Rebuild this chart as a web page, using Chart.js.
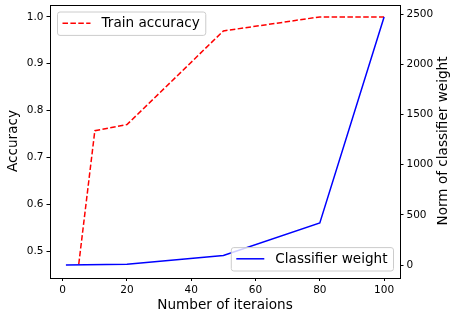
<!DOCTYPE html>
<html>
<head>
<meta charset="utf-8">
<script src="https://cdn.jsdelivr.net/npm/chart.js@4/dist/chart.umd.min.js"></script>
<style>
  html, body { margin: 0; padding: 0; background: #fff; }
  canvas { display: block; }
</style>
</head>
<body>
<canvas id="chart" width="450" height="318"></canvas>
<script>
// data
const accIters = [5, 10, 20, 50, 80, 100];
const trainAccuracy = [0.472, 0.757, 0.770, 0.970, 1.0, 1.0];
const weightIters = [1, 20, 50, 80, 100];
const classifierWeight = [2, 8, 95, 420, 2473];

const xTicks = [0, 20, 40, 60, 80, 100];
const accTicks = [0.5, 0.6, 0.7, 0.8, 0.9, 1.0];
const weightTicks = [0, 500, 1000, 1500, 2000, 2500];

const FONT = "'DejaVu Sans', sans-serif";
const tickFont = { family: FONT, size: 10.5 };
const labelFont = { family: FONT, size: 13.6 };

function toPoints(xs, ys) {
  return xs.map((x, i) => ({ x: x, y: ys[i] }));
}

function fixedTicks(values) {
  return function (axis) {
    axis.ticks = values.map((v) => ({ value: v }));
  };
}

const tickGrid = {
  drawOnChartArea: false,
  drawTicks: true,
  tickLength: 3.5,
  tickColor: '#000',
  lineWidth: 1,
};

// legends drawn by hand so they can sit in two corners like the original
function drawLegend(ctx, x, y, label, color, dash, anchorRight) {
  const fs = labelFont.size;
  ctx.save();
  ctx.font = fs + 'px ' + FONT;
  const textW = ctx.measureText(label).width;
  const pad = 5.5, handle = 28, gap = 11;
  const w = pad + handle + gap + textW + pad;
  const h = 23.4;
  const left = anchorRight ? x - w : x;
  const top = anchorRight ? y - h : y;

  ctx.beginPath();
  ctx.roundRect(left + 0.5, top + 0.5, w, h, 2.5);
  ctx.fillStyle = 'rgba(255,255,255,0.8)';
  ctx.fill();
  ctx.strokeStyle = '#cccccc';
  ctx.lineWidth = 1;
  ctx.stroke();

  const midY = top + h / 2;
  ctx.beginPath();
  ctx.setLineDash(dash);
  ctx.moveTo(left + pad, midY);
  ctx.lineTo(left + pad + handle, midY);
  ctx.strokeStyle = color;
  ctx.lineWidth = 1.5;
  ctx.stroke();
  ctx.setLineDash([]);

  ctx.fillStyle = '#000';
  ctx.textBaseline = 'middle';
  ctx.textAlign = 'left';
  ctx.fillText(label, left + pad + handle + gap, midY + 0.5);
  ctx.restore();
}

const framePlugin = {
  id: 'frame',
  afterDatasetsDraw(chart) {
    const { ctx, chartArea } = chart;
    ctx.save();
    ctx.strokeStyle = '#000';
    ctx.lineWidth = 1;
    ctx.strokeRect(
      Math.round(chartArea.left) + 0.5,
      Math.round(chartArea.top) + 0.5,
      Math.round(chartArea.right - chartArea.left),
      Math.round(chartArea.bottom - chartArea.top)
    );
    ctx.restore();

    const bpad = 7;
    drawLegend(ctx, chartArea.left + bpad, chartArea.top + bpad,
      'Train accuracy', '#ff0000', [5.5, 2.4], false);
    drawLegend(ctx, chartArea.right - bpad, chartArea.bottom - bpad,
      'Classifier weight', '#0000ff', [], true);

    // right axis title, reading upward as in the original
    ctx.save();
    ctx.font = labelFont.size + 'px ' + FONT;
    ctx.fillStyle = '#000';
    ctx.textAlign = 'center';
    ctx.textBaseline = 'middle';
    ctx.translate(443, (chartArea.top + chartArea.bottom) / 2);
    ctx.rotate(-Math.PI / 2);
    ctx.fillText('Norm of classifier weight', 0, 0);
    ctx.restore();
  },
};

new Chart(document.getElementById('chart'), {
  type: 'line',
  data: {
    datasets: [
      {
        label: 'Train accuracy',
        data: toPoints(accIters, trainAccuracy),
        yAxisID: 'y',
        borderColor: '#ff0000',
        borderWidth: 1.5,
        borderDash: [5.5, 2.4],
        pointRadius: 0,
        tension: 0,
        fill: false,
        order: 1,
      },
      {
        label: 'Classifier weight',
        data: toPoints(weightIters, classifierWeight),
        yAxisID: 'y2',
        borderColor: '#0000ff',
        borderWidth: 1.5,
        pointRadius: 0,
        tension: 0,
        fill: false,
        order: 0,
      },
    ],
  },
  options: {
    responsive: false,
    animation: false,
    layout: { padding: { top: 4.5, left: 0, right: 0, bottom: 0 } },
    plugins: {
      legend: { display: false },
      tooltip: { enabled: false },
    },
    scales: {
      x: {
        type: 'linear',
        min: -3.95,
        max: 104.95,
        afterBuildTicks: fixedTicks(xTicks),
        afterFit(axis) {
          axis.height = 40.5;
          axis.paddingLeft = 0;
          axis.paddingRight = 0;
        },
        border: { display: false },
        grid: tickGrid,
        ticks: {
          font: tickFont,
          color: '#000',
          padding: 3,
          maxRotation: 0,
          callback: (v) => String(v),
        },
        title: {
          display: true,
          text: 'Number of iteraions',
          font: labelFont,
          color: '#000',
          padding: { top: 0, bottom: 4.5 },
        },
      },
      y: {
        position: 'left',
        min: 0.4435,
        max: 1.0265,
        afterBuildTicks: fixedTicks(accTicks),
        afterFit(axis) {
          axis.width = 50;
          axis.paddingTop = 0;
          axis.paddingBottom = 0;
        },
        border: { display: false },
        grid: tickGrid,
        ticks: {
          font: tickFont,
          color: '#000',
          padding: 3,
          callback: (v) => v.toFixed(1),
        },
        title: {
          display: true,
          text: 'Accuracy',
          font: labelFont,
          color: '#000',
          padding: { top: 5, bottom: 0 },
        },
      },
      y2: {
        position: 'right',
        min: -123.6,
        max: 2597,
        afterBuildTicks: fixedTicks(weightTicks),
        afterFit(axis) {
          axis.width = 50;
          axis.paddingTop = 0;
          axis.paddingBottom = 0;
        },
        border: { display: false },
        grid: tickGrid,
        ticks: {
          font: tickFont,
          color: '#000',
          padding: 3,
          callback: (v) => String(v),
        },
      },
    },
  },
  plugins: [framePlugin],
});
</script>
</body>
</html>
